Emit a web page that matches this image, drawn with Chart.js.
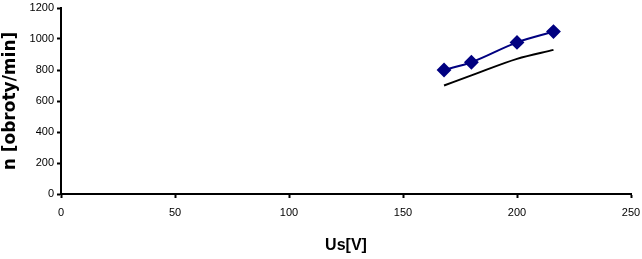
<!DOCTYPE html>
<html><head><meta charset="utf-8">
<script src="https://cdn.jsdelivr.net/npm/chart.js@4"></script>
<style>html,body{margin:0;padding:0;background:#fff}#w{width:642px;height:259px}</style>
</head><body><div id="w"><canvas id="c"></canvas></div>
<script>
const usValues = [168, 180, 200, 216];
const nMeasured = [800, 850, 978, 1048];
const nSecond = [700, 765, 872, 930];
const xTicks = [0, 50, 100, 150, 200, 250];
const yTicks = [0, 200, 400, 600, 800, 1000, 1200];

const pts = (xs, ys) => xs.map((x, i) => ({x, y: ys[i]}));

new Chart(document.getElementById('c'), {
  type: 'scatter',
  data: {datasets: [
    {data: pts(usValues, nMeasured), showLine: true, borderColor: '#000080', backgroundColor: '#000080',
     borderWidth: 2, pointStyle: 'rectRot', pointRadius: 6, pointHoverRadius: 6, tension: 0.4, cubicInterpolationMode: 'monotone'},
    {data: pts(usValues, nSecond), showLine: true, borderColor: '#000000', borderWidth: 2,
     pointRadius: 0, tension: 0.4, cubicInterpolationMode: 'monotone'}
  ]},
  options: {
    responsive: true, maintainAspectRatio: false, animation: false,
    layout: {padding: {top: 3, right: 11, left: 0, bottom: 0}},
    plugins: {legend: {display: false}, tooltip: {enabled: false}},
    scales: {
      x: {type: 'linear', min: 0, max: 250,
        afterBuildTicks: s => { s.ticks = xTicks.map(v => ({value: v})); },
        afterFit: s => { s.height = 65; s.paddingRight = 0; s.paddingLeft = 0; },
        grid: {drawOnChartArea: false, drawTicks: true, tickLength: 4, color: '#000', tickWidth: 2},
        border: {display: true, color: '#000', width: 2},
        ticks: {color: '#000', font: {family: 'Liberation Sans', size: 11}, padding: 8, maxRotation: 0, callback: v => String(v)},
        title: {display: true, text: 'Us[V]', color: '#000', font: {family: 'Liberation Sans', size: 16, weight: 'bold'}, padding: {top: 12}}
      },
      y: {type: 'linear', min: 0, max: 1200,
        afterBuildTicks: s => { s.ticks = yTicks.map(v => ({value: v})); },
        afterFit: s => { s.width = 61; s.paddingTop = 0; s.paddingBottom = 0; },
        grid: {drawOnChartArea: false, drawTicks: true, tickLength: 4, color: '#000', tickWidth: 2},
        border: {display: true, color: '#000', width: 2},
        ticks: {color: '#000', font: {family: 'Liberation Sans', size: 11}, padding: 3, callback: v => String(v)},
        title: {display: true, text: 'n [obroty/min]', color: '#000', font: {family: 'DejaVu Sans', size: 17, weight: 'bold'}, padding: {top: 0, bottom: 0}}
      }
    }
  }
});
</script></body></html>
